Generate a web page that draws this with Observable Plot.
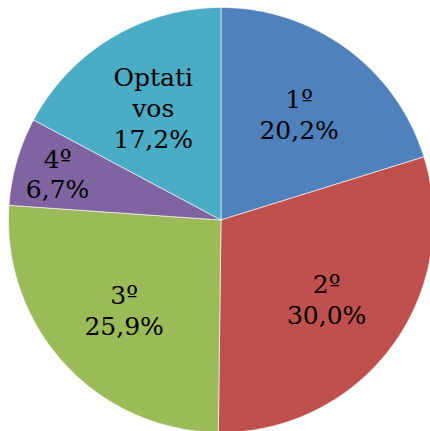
<!DOCTYPE html>
<html>
<head>
<meta charset="utf-8">
<script src="https://cdn.jsdelivr.net/npm/d3@7"></script>
<script src="https://cdn.jsdelivr.net/npm/@observablehq/plot@0.6"></script>
<style>
  html, body { margin: 0; padding: 0; background: #fff; }
  #chart { width: 430px; height: 431px; }
</style>
</head>
<body>
<div id="chart"></div>
<script>
const categories = ["1º", "2º", "3º", "4º", "Optativos"];
const shares = [20.2, 30.0, 25.9, 6.7, 17.2];
const colors = ["#4F81BD", "#C0504D", "#9BBB59", "#8064A2", "#4BACC6"];

const W = 430, H = 431;
const cx = 220.5, cy = 219.5, R = 212.5;

const arcs = d3.pie().sort(null).value(d => d)(shares);

const slicePts = arcs.flatMap((a, i) => {
  const c = categories[i];
  const pts = [{c, x: 0, y: 0}];
  const n = Math.max(2, Math.ceil((a.endAngle - a.startAngle) / (Math.PI / 360)));
  for (let k = 0; k <= n; k++) {
    const t = a.startAngle + (a.endAngle - a.startAngle) * k / n;
    pts.push({c, x: Math.sin(t), y: Math.cos(t)});
  }
  pts.push({c, x: 0, y: 0});
  return pts;
});

const wrap = s => s.length > 6 ? s.slice(0, 6) + "\n" + s.slice(6) : s;
const fmt = v => v.toFixed(1).replace(".", ",") + "%";

const labels = arcs.map((a, i) => {
  const mid = (a.startAngle + a.endAngle) / 2;
  const r = shares[i] < 10 ? 0.8 : 0.62;
  return {x: r * Math.sin(mid), y: r * Math.cos(mid), text: wrap(categories[i]) + "\n" + fmt(shares[i])};
});

const chart = Plot.plot({
  width: W,
  height: H,
  margin: 0,
  style: {background: "#fff", fontFamily: "DejaVu Serif"},
  x: {domain: [-1, 1], range: [cx - R, cx + R], axis: null},
  y: {domain: [-1, 1], range: [cy + R, cy - R], axis: null},
  color: {domain: categories, range: colors},
  marks: [
    Plot.line(slicePts, {x: "x", y: "y", z: "c", fill: "c", stroke: "#fff", strokeWidth: 1, strokeOpacity: 0.6, curve: "linear"}),
    Plot.text(labels, {x: "x", y: "y", text: "text", fontSize: 25, lineHeight: 1.24, fill: "#000", textAnchor: "middle", fontFamily: "DejaVu Serif"})
  ]
});
document.getElementById("chart").appendChild(chart);
</script>
</body>
</html>
